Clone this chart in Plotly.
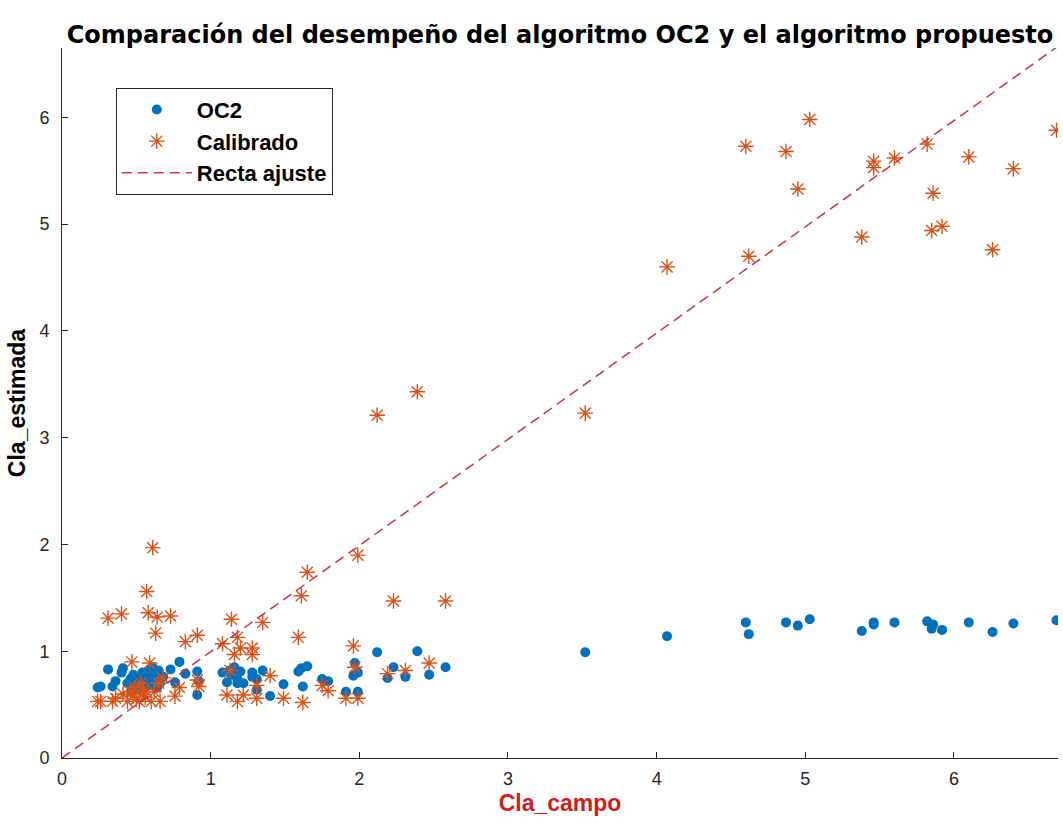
import numpy as np
import plotly.graph_objects as go

# Campo (measured) chlorophyll-a values, shared by both estimators
cla_campo = [
    0.24, 0.26, 0.31, 0.34, 0.36, 0.40, 0.41, 0.44, 0.46, 0.47,
    0.48, 0.49, 0.50, 0.52, 0.53, 0.54, 0.55, 0.56, 0.57, 0.58,
    0.59, 0.60, 0.61, 0.62, 0.63, 0.64, 0.65, 0.66, 0.68, 0.73,
    0.76, 0.79, 0.83, 0.91, 0.91, 0.92, 1.08, 1.11, 1.13, 1.14,
    1.16, 1.18, 1.18, 1.20, 1.22, 1.28, 1.28, 1.31, 1.31, 1.35,
    1.40, 1.49, 1.59, 1.61, 1.62, 1.65, 1.75, 1.79, 1.91, 1.96,
    1.97, 1.99, 1.99, 2.12, 2.19, 2.23, 2.31, 2.39, 2.47, 2.58,
    3.52, 4.07, 4.60, 4.62, 4.87, 4.95, 5.03, 5.38, 5.46, 5.46,
    5.60, 5.82, 5.85, 5.86, 5.92, 6.10, 6.26, 6.40, 6.69,
]

# Estimates from the OC2 algorithm
oc2 = [
    0.66, 0.67, 0.83, 0.67, 0.72, 0.80, 0.84, 0.70, 0.74, 0.62,
    0.78, 0.76, 0.68, 0.72, 0.64, 0.80, 0.70, 0.66, 0.77, 0.82,
    0.74, 0.68, 0.85, 0.72, 0.80, 0.66, 0.82, 0.70, 0.76, 0.83,
    0.71, 0.90, 0.79, 0.81, 0.59, 0.72, 0.80, 0.71, 0.82, 0.78,
    0.85, 0.70, 0.74, 0.81, 0.70, 0.80, 0.76, 0.64, 0.74, 0.82,
    0.58, 0.69, 0.81, 0.84, 0.67, 0.86, 0.74, 0.72, 0.62, 0.77,
    0.89, 0.62, 0.80, 0.99, 0.75, 0.85, 0.76, 1.00, 0.78, 0.85,
    0.99, 1.14, 1.27, 1.16, 1.27, 1.24, 1.30, 1.19, 1.27, 1.25,
    1.27, 1.28, 1.21, 1.25, 1.20, 1.27, 1.18, 1.26, 1.29,
]

# Estimates from the calibrated (proposed) algorithm
calibrado = [
    0.53, 0.53, 1.31, 0.53, 0.56, 1.35, 0.60, 0.53, 0.62, 0.90,
    0.58, 0.66, 0.55, 0.53, 0.70, 0.60, 0.64, 0.57, 1.56, 1.36,
    0.89, 0.53, 1.97, 0.62, 1.17, 1.32, 0.70, 0.53, 0.75, 1.33,
    0.58, 0.66, 1.09, 1.15, 0.73, 0.67, 1.07, 0.59, 0.82, 1.30,
    0.97, 1.13, 0.53, 1.03, 0.59, 1.03, 0.97, 0.68, 0.56, 1.27,
    0.77, 0.56, 1.13, 1.52, 0.52, 1.74, 0.68, 0.63, 0.56, 1.05,
    0.85, 0.56, 1.90, 3.21, 0.79, 1.47, 0.82, 3.43, 0.89, 1.47,
    3.23, 4.60, 5.73, 4.70, 5.68, 5.33, 5.98, 4.88, 5.59, 5.53,
    5.62, 5.75, 4.94, 5.29, 4.98, 5.63, 4.76, 5.52, 5.88,
]

# Fitted line through the origin
fit_slope = 0.995
fit_intercept = 0.0
x_range = [0, 6.7]
y_range = [0, 6.65]
tick_values = [0, 1, 2, 3, 4, 5, 6]

x_fit = np.array(x_range)
y_fit = fit_slope * x_fit + fit_intercept

BLUE = "#0072BD"
ORANGE = "#D95319"
RED_DASH = "#CC3347"
AXIS = "#262626"
FONT = "Liberation Sans, Arial, sans-serif"
TICK_FONT = "Liberation Sans Narrow, Liberation Sans, Arial, sans-serif"
TITLE_FONT = "DejaVu Sans, Liberation Sans, sans-serif"

fig = go.Figure()

fig.add_trace(go.Scatter(
    x=cla_campo, y=oc2, mode="markers", name="OC2",
    marker=dict(symbol="circle", size=10, color=BLUE, line=dict(width=0)),
))

fig.add_trace(go.Scatter(
    x=cla_campo, y=calibrado, mode="markers", name="Calibrado",
    marker=dict(symbol="asterisk-open", size=13, color=ORANGE,
                line=dict(color=ORANGE, width=1.4)),
))

fig.add_trace(go.Scatter(
    x=x_fit, y=y_fit, mode="lines", name="Recta ajuste",
    line=dict(color=RED_DASH, width=1.5, dash="10px,6px"),
))

fig.update_layout(
    width=1063, height=826,
    margin=dict(l=62, r=5, t=48, b=68),
    paper_bgcolor="white", plot_bgcolor="white",
    font=dict(family=FONT, color=AXIS),
    title=dict(
        text="<b>Comparación del desempeño del algoritmo OC2 y el algoritmo propuesto</b>",
        x=0.5, xanchor="center", xref="paper",
        y=0.958, yanchor="middle",
        font=dict(family=TITLE_FONT, size=24, color="#000000"),
    ),
    showlegend=True,
    legend=dict(
        x=0.054, y=0.944, xanchor="left", yanchor="top",
        bgcolor="white", bordercolor=AXIS, borderwidth=1,
        font=dict(family=FONT, size=22, color="#000000", weight="bold"),
        itemwidth=70, tracegroupgap=0,
    ),
)

fig.update_xaxes(
    range=x_range, tickvals=tick_values,
    showgrid=False, zeroline=False,
    showline=True, linecolor=AXIS, linewidth=1, mirror=False,
    ticks="inside", ticklen=6, tickcolor=AXIS,
    tickfont=dict(family=TICK_FONT, size=18, color=AXIS),
    ticklabelstandoff=4,
    title=dict(text="<b>Cla_campo</b>", standoff=7,
               font=dict(family=FONT, size=23, color="#D41B1B")),
)

fig.update_yaxes(
    range=y_range, tickvals=tick_values,
    showgrid=False, zeroline=False,
    showline=True, linecolor=AXIS, linewidth=1, mirror=False,
    ticks="inside", ticklen=6, tickcolor=AXIS,
    tickfont=dict(family=TICK_FONT, size=18, color=AXIS),
    ticklabelstandoff=8,
    title=dict(text="<b>Cla_estimada</b>", standoff=7,
               font=dict(family=FONT, size=23, color="#000000")),
)

fig.write_html("out.html")
